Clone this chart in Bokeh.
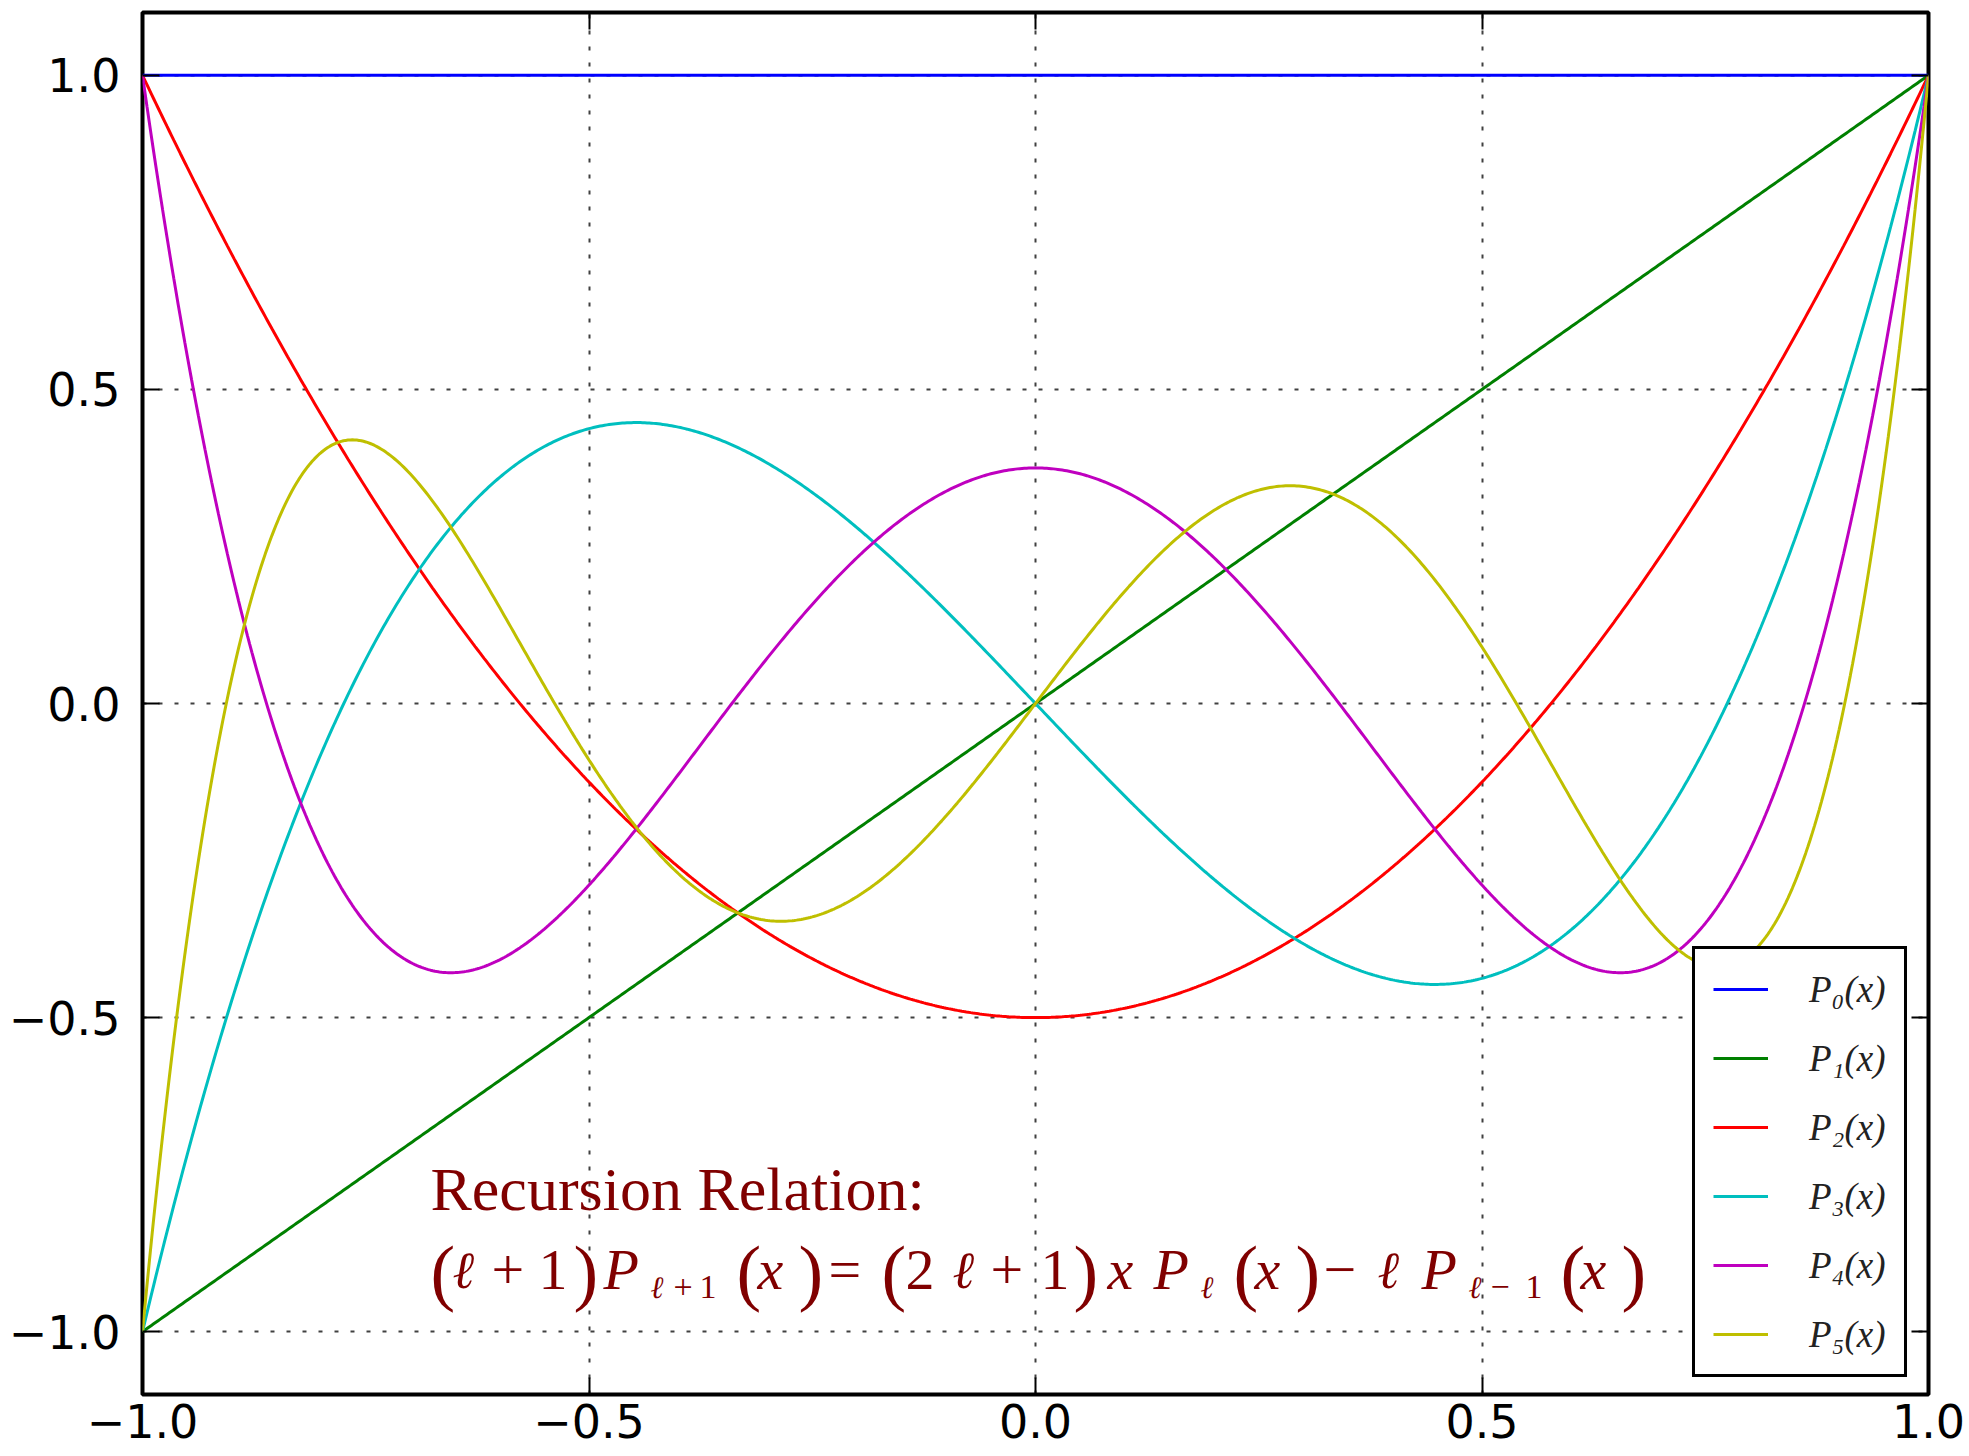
import numpy as np
from bokeh.plotting import figure
from bokeh.models import (Range1d, LinearAxis, Legend, LegendItem, Label,
                          FixedTicker)
from bokeh.embed import file_html
from bokeh.resources import INLINE

# Legendre polynomials P0..P5, power-series coefficients (constant term first)
P0 = [1.0]
P1 = [0.0, 1.0]
P2 = [-0.5, 0.0, 1.5]
P3 = [0.0, -1.5, 0.0, 2.5]
P4 = [0.375, 0.0, -3.75, 0.0, 4.375]
P5 = [0.0, 1.875, 0.0, -8.75, 0.0, 7.875]
series_coeffs = [P0, P1, P2, P3, P4, P5]
series_names = ["P₀(x)", "P₁(x)", "P₂(x)", "P₃(x)", "P₄(x)", "P₅(x)"]

x_samples = np.linspace(-1.0, 1.0, 801)

x_ticks = [-1.0, -0.5, 0.0, 0.5, 1.0]
x_tick_labels = ["−1.0", "−0.5", "0.0", "0.5", "1.0"]
y_ticks = [-1.0, -0.5, 0.0, 0.5, 1.0]
y_tick_labels = ["−1.0", "−0.5", "0.0", "0.5", "1.0"]

colors = ["#0000ff", "#008000", "#ff0000", "#00bfbf", "#bf00bf", "#bfbf00"]

W, H = 1969, 1456
p = figure(width=W, height=H, x_range=Range1d(-1.0, 1.0), y_range=Range1d(-1.1, 1.1),
           output_backend="svg", toolbar_location=None,
           min_border_left=142, min_border_right=41, min_border_top=12, min_border_bottom=62,
           background_fill_color="white", border_fill_color="white")

p.outline_line_color = "black"
p.outline_line_width = 4
p.outline_line_alpha = 1.0

def style_axis(ax, ticks, labels, show_labels, standoff):
    ax.ticker = FixedTicker(ticks=ticks)
    ax.major_label_overrides = {t: l for t, l in zip(ticks, labels)}
    ax.axis_line_color = None
    ax.major_tick_in = 17
    ax.major_tick_out = 0
    ax.major_tick_line_color = "black"
    ax.major_tick_line_width = 2
    ax.minor_tick_line_color = None
    ax.major_label_standoff = standoff
    ax.major_label_text_font = "DejaVu Sans"
    ax.major_label_text_color = "black"
    ax.major_label_text_font_size = "46px" if show_labels else "0px"

style_axis(p.xaxis[0], x_ticks, x_tick_labels, True, 9)
style_axis(p.yaxis[0], y_ticks, y_tick_labels, True, 22)

ax_top = LinearAxis()
style_axis(ax_top, x_ticks, ["", "", "", "", ""], False, 0)
p.add_layout(ax_top, "above")
ax_right = LinearAxis()
style_axis(ax_right, y_ticks, ["", "", "", "", ""], False, 0)
p.add_layout(ax_right, "right")

for g in (p.xgrid[0], p.ygrid[0]):
    g.grid_line_color = "black"
    g.grid_line_alpha = 0.75
    g.grid_line_width = 2
    g.grid_line_dash = "4 12"
p.xgrid[0].ticker = FixedTicker(ticks=x_ticks)
p.ygrid[0].ticker = FixedTicker(ticks=y_ticks)

items = []
for coeffs, name, col in zip(series_coeffs, series_names, colors):
    yv = np.polynomial.polynomial.polyval(x_samples, coeffs)
    r = p.line(x_samples, yv, line_color=col, line_width=3)
    items.append(LegendItem(label=name, renderers=[r]))

legend = Legend(items=items, location=(1550, 17), margin=0,
                border_line_color="black", border_line_width=3, border_line_alpha=1.0,
                background_fill_color="white", background_fill_alpha=1.0,
                padding=18, spacing=25, glyph_width=55, glyph_height=44,
                label_height=44, label_standoff=41,
                label_text_font="Liberation Serif", label_text_font_style="italic",
                label_text_font_size="37px", label_text_color="#222222")
p.add_layout(legend)

# Annotation: recursion relation, laid out piece by piece in pixel space
def dx(px):
    return -1.0 + (px - 142.0) / 893.0

def dy(py):
    return 1.0 - (py - 74.0) / 628.0

ink = "#800000"
p.add_layout(Label(x=dx(430), y=dy(1187), text="Recursion Relation:",
                   text_font="Liberation Serif", text_font_size="62px",
                   text_color=ink, text_baseline="alphabetic", text_align="left"))

main_base, sub_base = 1268, 1285
# (text, left px, kind)
pieces = [
    ("(", 430, "paren"), ("ℓ", 452, "ell"), ("+", 491, "upright"), ("1", 538, "upright"),
    (")", 573, "paren"), ("P", 603, "italic"),
    ("ℓ", 650, "subell"), ("+", 673, "sub"), ("1", 699, "sub"),
    ("(", 736, "paren"), ("x", 757, "italic"), (")", 798, "paren"),
    ("=", 828, "upright"),
    ("(", 881, "paren"), ("2", 905, "upright"), ("ℓ", 952, "ell"), ("+", 990, "upright"),
    ("1", 1040, "upright"), (")", 1073, "paren"),
    ("x", 1107, "italic"), ("P", 1153, "italic"), ("ℓ", 1200, "subell"),
    ("(", 1233, "paren"), ("x", 1254, "italic"), (")", 1295, "paren"),
    ("−", 1323, "upright"), ("ℓ", 1377, "ell"),
    ("P", 1421, "italic"), ("ℓ", 1468, "subell"), ("−", 1490, "sub"), ("1", 1525, "sub"),
    ("(", 1560, "paren"), ("x", 1580, "italic"), (")", 1621, "paren"),
]
styles = {
    "paren":   ("Liberation Serif", "74px", "normal", main_base + 2),
    "upright": ("Liberation Serif", "58px", "normal", main_base),
    "italic":  ("Liberation Serif", "58px", "italic", main_base),
    "ell":     ("DejaVu Serif", "52px", "italic", main_base),
    "sub":     ("Liberation Serif", "34px", "normal", sub_base),
    "subell":  ("DejaVu Serif", "31px", "italic", sub_base),
}
for txt, px, kind in pieces:
    font, size, style, base = styles[kind]
    p.add_layout(Label(x=dx(px), y=dy(base), text=txt,
                       text_font=font, text_font_size=size,
                       text_font_style=style, text_color=ink,
                       text_baseline="alphabetic", text_align="left"))

open("out.html", "w").write(file_html(p, INLINE))
